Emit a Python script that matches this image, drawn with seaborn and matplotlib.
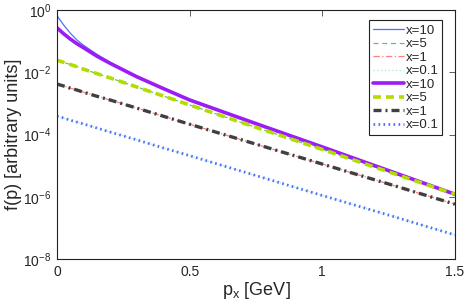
import matplotlib
matplotlib.use("Agg")
import matplotlib.pyplot as plt
import seaborn as sns
import numpy as np

# momentum grid [GeV]
p_grid = [0, 0.025, 0.05, 0.075, 0.1, 0.15, 0.2, 0.3, 0.4, 0.5, 0.75, 1.0, 1.25, 1.5]

# log10 of f(p)
logf_thin10 = [-0.18, -0.48, -0.74, -0.96, -1.13, -1.42, -1.68, -2.14, -2.52, -2.89, -3.65, -4.40, -5.16, -5.92]
logf_x10 = [-0.57, -0.76, -0.93, -1.08, -1.21, -1.48, -1.71, -2.14, -2.52, -2.89, -3.65, -4.40, -5.16, -5.92]
logf_x5 = [-1.61, -1.68, -1.75, -1.82, -1.90, -2.04, -2.18, -2.47, -2.76, -3.05, -3.77, -4.48, -5.20, -5.92]
logf_x1 = [-2.38, -2.44, -2.51, -2.57, -2.64, -2.77, -2.89, -3.15, -3.41, -3.67, -4.31, -4.95, -5.59, -6.24]
logf_x01 = [-3.41, -3.47, -3.54, -3.60, -3.66, -3.79, -3.92, -4.17, -4.43, -4.68, -5.32, -5.96, -6.59, -7.23]

labels = ["x=10", "x=5", "x=1", "x=0.1"]

sns.set_style("white")
plt.rcParams["font.family"] = ["Liberation Sans", "DejaVu Sans"]

fig = plt.figure(figsize=(4.69, 3.05), dpi=100)
ax = fig.add_axes([0.1215, 0.151, 0.8485, 0.816])

thin = [
    (logf_thin10, "#4f6fff", "-"),
    (logf_x5, "#66c466", (0, (4, 3))),
    (logf_x1, "#ff7f7f", (0, (5, 2, 1, 2))),
    (logf_x01, "#99eedd", (0, (1, 2))),
]
thick = [
    (logf_x10, "#9b1cf5", "-", 2.6),
    (logf_x5, "#b3dc00", (0, (2.2, 1.4)), 2.6),
    (logf_x1, "#404040", (0, (2.4, 1.2, 0.6, 1.2)), 2.4),
    (logf_x01, "#4f6fff", (0, (0.6, 1.2)), 2.0),
]

for (lf, c, ls), lab in zip(thin, labels):
    sns.lineplot(x=p_grid, y=10 ** np.array(lf), ax=ax, color=c, linestyle=ls,
                 linewidth=0.9, label=lab, sort=False)
for (lf, c, ls, lw), lab in zip(thick, labels):
    sns.lineplot(x=p_grid, y=10 ** np.array(lf), ax=ax, color=c, linestyle=ls,
                 linewidth=lw, label=lab, sort=False)

ax.set_yscale("log")
ax.set_xlim(0, 1.5)
ax.set_ylim(1e-8, 1)
ax.set_xticks([0, 0.5, 1, 1.5])
ax.set_xticklabels(["0", "0.5", "1", "1.5"])
ax.set_yticks([1e-8, 1e-6, 1e-4, 1e-2, 1])
ax.yaxis.set_minor_locator(matplotlib.ticker.NullLocator())
ax.tick_params(direction="in", top=True, right=True, length=4, width=0.6,
               labelsize=10, color="#444444", pad=4)
for s in ax.spines.values():
    s.set_linewidth(0.8)
    s.set_color("#222222")

ax.set_xlabel("p$_\\mathregular{x}$ [GeV]", fontsize=13, labelpad=1)
ax.set_ylabel("f(p) [arbitrary units]", fontsize=13, labelpad=1)

leg = ax.legend(loc="upper right", fontsize=9.5, handlelength=2.3,
                handletextpad=0.15, labelspacing=0.1, borderpad=0.3,
                fancybox=False, framealpha=1, bbox_to_anchor=(0.985, 0.985))
leg.get_frame().set_edgecolor("#222222")
leg.get_frame().set_linewidth(0.8)

fig.savefig("out.png", dpi=100)
